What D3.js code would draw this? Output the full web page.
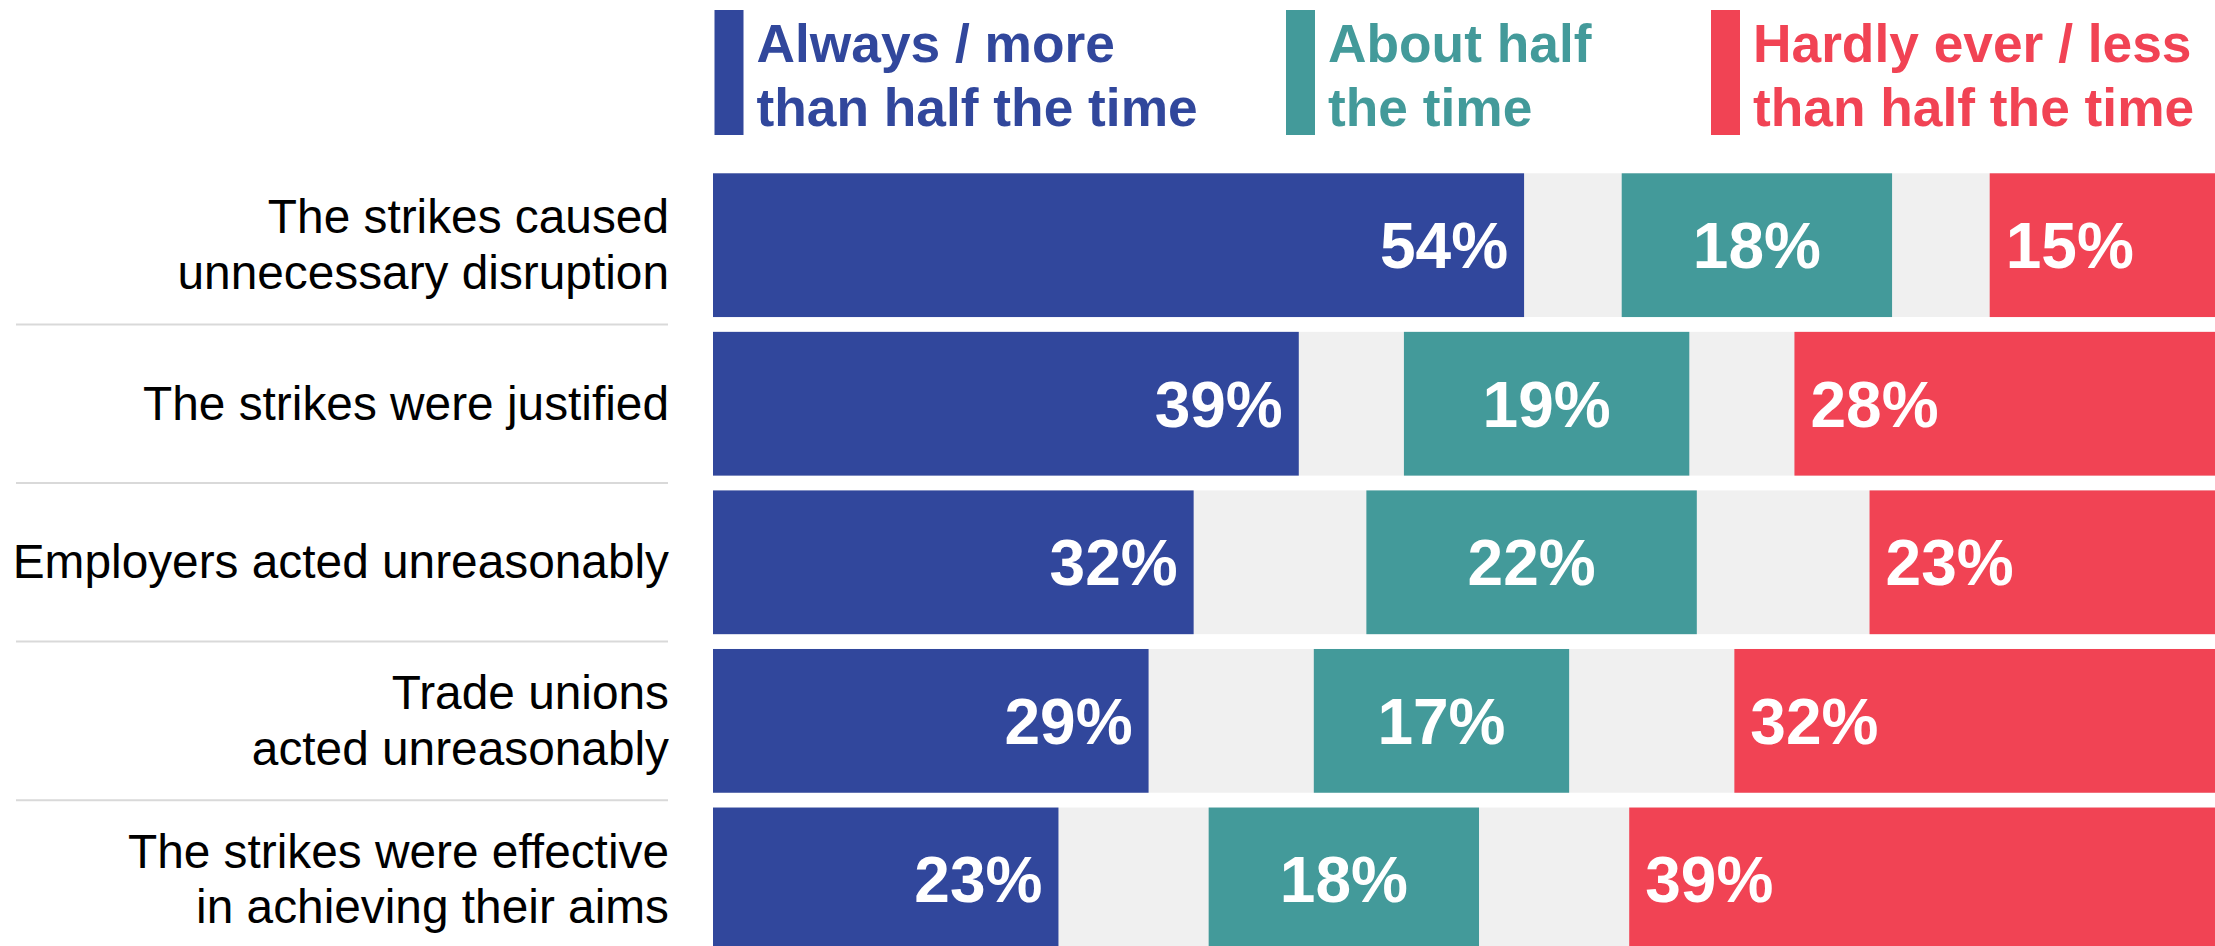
<!DOCTYPE html>
<html>
<head>
<meta charset="utf-8">
<script src="https://cdn.jsdelivr.net/npm/d3@7/dist/d3.min.js"></script>
<style>
  html, body { margin: 0; padding: 0; background: #ffffff; }
  svg { display: block; font-family: "Liberation Sans", Arial, sans-serif; }
</style>
</head>
<body>
<svg id="chart" width="2215" height="946"></svg>
<script>
// ---- Data ----
const categories = [
  "The strikes caused unnecessary disruption",
  "The strikes were justified",
  "Employers acted unreasonably",
  "Trade unions acted unreasonably",
  "The strikes were effective in achieving their aims"
];
const categoryLines = [
  ["The strikes caused", "unnecessary disruption"],
  ["The strikes were justified"],
  ["Employers acted unreasonably"],
  ["Trade unions", "acted unreasonably"],
  ["The strikes were effective", "in achieving their aims"]
];
const alwaysMore = [54, 39, 32, 29, 23];
const aboutHalf  = [18, 19, 22, 17, 18];
const hardlyEver = [15, 28, 23, 32, 39];
const neitherOther = [13, 14, 23, 22, 20]; // remainder, shown as grey gaps split either side of the middle bar

const seriesNames = [
  ["Always / more", "than half the time"],
  ["About half", "the time"],
  ["Hardly ever / less", "than half the time"]
];
const seriesColors = ["#31479c", "#439a9a", "#f14354"];
const gapColor = "#f0f0f0";

// ---- Layout ----
const W = 2215, H = 946;
const svg = d3.select("#chart");

const x = d3.scaleLinear().domain([0, 100]).range([713, 2215]);
const y = d3.scaleBand()
  .domain(categories)
  .range([173.3, 951.3])
  .paddingInner(0.0934)
  .paddingOuter(0);

const rows = categories.map((c, i) => {
  const a = alwaysMore[i], h = aboutHalf[i], r = hardlyEver[i], g = neitherOther[i] / 2;
  return {
    cat: c, lines: categoryLines[i],
    segs: [
      { s: 0, x0: 0, x1: a, v: a },
      { s: 1, x0: a + g, x1: a + g + h, v: h },
      { s: 2, x0: a + g + h + g, x1: a + g + h + g + r, v: r }
    ]
  };
});

// grey background (gaps)
svg.append("g").selectAll("rect").data(rows).join("rect")
  .attr("x", x(0)).attr("width", x(100) - x(0))
  .attr("y", d => y(d.cat)).attr("height", y.bandwidth())
  .attr("fill", gapColor);

// segments
const rowG = svg.append("g").selectAll("g").data(rows).join("g");
rowG.selectAll("rect").data(d => d.segs.map(s => ({ ...s, cat: d.cat }))).join("rect")
  .attr("x", d => x(d.x0))
  .attr("width", d => x(d.x1) - x(d.x0))
  .attr("y", d => y(d.cat))
  .attr("height", y.bandwidth())
  .attr("fill", d => seriesColors[d.s]);

// value labels
rowG.selectAll("text").data(d => d.segs.map(s => ({ ...s, cat: d.cat }))).join("text")
  .attr("x", d => d.s === 0 ? x(d.x1) - 16 : d.s === 1 ? (x(d.x0) + x(d.x1)) / 2 : x(d.x0) + 16)
  .attr("y", d => y(d.cat) + y.bandwidth() / 2 + 23)
  .attr("text-anchor", d => d.s === 0 ? "end" : d.s === 1 ? "middle" : "start")
  .attr("fill", "#ffffff")
  .attr("font-weight", "bold")
  .attr("font-size", 64)
  .text(d => d.v + "%");

// category labels
const lineH = 55.6;
const labG = svg.append("g").selectAll("text").data(rows).join("text")
  .attr("text-anchor", "end")
  .attr("font-size", 47.8)
  .attr("fill", "#000000");
labG.selectAll("tspan").data(d => d.lines.map((l, j) => ({ l, j, n: d.lines.length, cat: d.cat }))).join("tspan")
  .attr("x", 669)
  .attr("y", d => y(d.cat) + y.bandwidth() / 2 + 16 + (d.j - (d.n - 1) / 2) * lineH)
  .text(d => d.l);

// separators
const step = y.step();
svg.append("g").selectAll("line").data(categories.slice(0, -1)).join("line")
  .attr("x1", 16).attr("x2", 668)
  .attr("y1", d => y(d) + y.bandwidth() + (step - y.bandwidth()) / 2)
  .attr("y2", d => y(d) + y.bandwidth() + (step - y.bandwidth()) / 2)
  .attr("stroke", "#d9d9d9").attr("stroke-width", 2);

// legend
const legendX = [714.5, 1286, 1711];
const lg = svg.append("g").selectAll("g").data(seriesNames).join("g")
  .attr("transform", (d, i) => `translate(${legendX[i]},0)`);
lg.append("rect")
  .attr("x", 0).attr("y", 10).attr("width", 29).attr("height", 125)
  .attr("fill", (d, i) => seriesColors[i]);
const lt = lg.append("text")
  .attr("font-weight", "bold").attr("font-size", 53.3)
  .attr("fill", (d, i) => seriesColors[i]);
lt.selectAll("tspan").data(d => d).join("tspan")
  .attr("x", 42)
  .attr("y", (d, j) => 61.5 + j * 64.5)
  .text(d => d);
</script>
</body>
</html>
